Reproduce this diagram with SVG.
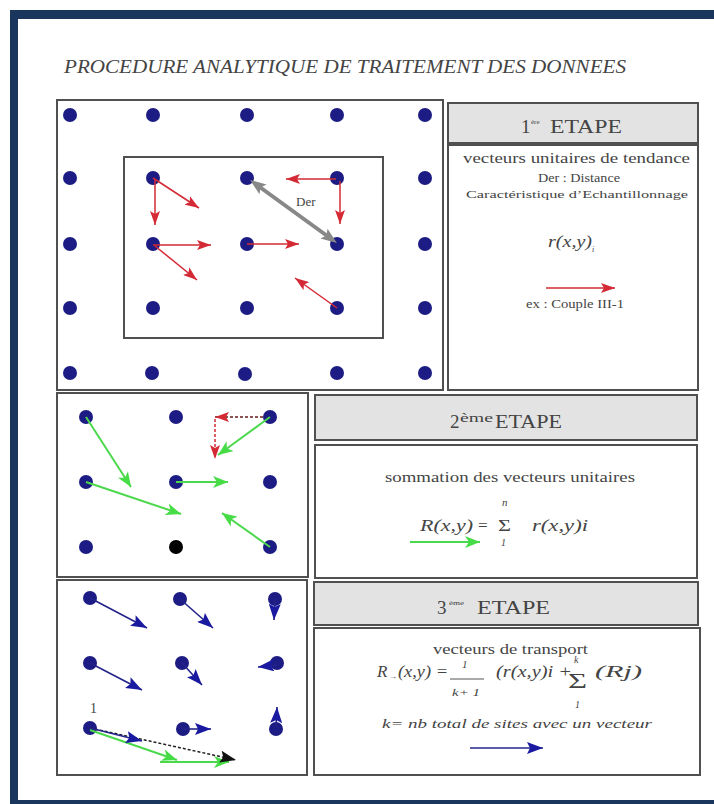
<svg xmlns="http://www.w3.org/2000/svg" width="714" height="804" viewBox="0 0 714 804" font-family="Liberation Serif, serif">
<style>
text{font-family:"Liberation Serif","Times New Roman",serif;fill:#444}
.it{font-style:italic}
.box{fill:#fff;stroke:#505050;stroke-width:2}
.hdr{fill:#e3e3e3;stroke:#505050;stroke-width:2}
.dot{fill:#1c1c84}
.red{stroke:#d42a35;stroke-width:1.5;fill:none;marker-end:url(#hr)}
.grn{stroke:#4cd84c;stroke-width:2;fill:none;marker-end:url(#hg)}
.blu{stroke:#24248a;stroke-width:1.6;fill:none;marker-end:url(#hb)}
</style>
<defs>
<marker id="hr" viewBox="0 0 14 10" refX="14" refY="5" markerWidth="14" markerHeight="10" markerUnits="userSpaceOnUse" orient="auto"><path d="M0,0 L14,5 L0,10 L3,5 z" fill="#d42a35"/></marker>
<marker id="hg" viewBox="0 0 15 12" refX="15" refY="6" markerWidth="15" markerHeight="12" markerUnits="userSpaceOnUse" orient="auto"><path d="M0,0 L15,6 L0,12 L4,6 z" fill="#45dc45"/></marker>
<marker id="hb" viewBox="0 0 16 12" refX="16" refY="6" markerWidth="16" markerHeight="12" markerUnits="userSpaceOnUse" orient="auto"><path d="M0,0 L16,6 L0,12 L3,6 z" fill="#1a1aa0"/></marker>
<marker id="hk" viewBox="0 0 16 12" refX="16" refY="6" markerWidth="16" markerHeight="12" markerUnits="userSpaceOnUse" orient="auto"><path d="M0,0 L16,6 L0,12 L3,6 z" fill="#111"/></marker>
<marker id="hgy" viewBox="0 0 16 12" refX="10" refY="6" markerWidth="16" markerHeight="12" markerUnits="userSpaceOnUse" orient="auto-start-reverse"><path d="M0,0 L16,6 L0,12 L3,6 z" fill="#888"/></marker>
</defs>

<!-- frame -->
<g id="frame" fill="#1b365d">
<rect x="10" y="10" width="704" height="9"/>
<rect x="10" y="10" width="8" height="794"/>
<rect x="10" y="800" width="704" height="4"/>
</g>

<text id="title" class="it" x="64" y="73" font-size="19" textLength="562" lengthAdjust="spacingAndGlyphs" fill="#4a4a4a">PROCEDURE ANALYTIQUE DE TRAITEMENT DES DONNEES</text>

<!-- Panel 1 grid -->
<g id="panel1">
<rect class="box" x="57" y="100" width="386" height="290"/>
<rect class="box" x="124" y="157" width="259" height="181"/>
<g class="dot">
<circle cx="70" cy="115" r="7"/><circle cx="153" cy="115" r="7"/><circle cx="247" cy="115" r="7"/><circle cx="337" cy="115" r="7"/><circle cx="425" cy="115" r="7"/>
<circle cx="70" cy="178" r="7"/><circle cx="153" cy="178" r="7"/><circle cx="247" cy="178" r="7"/><circle cx="337" cy="178" r="7"/><circle cx="425" cy="178" r="7"/>
<circle cx="70" cy="244" r="7"/><circle cx="153" cy="244" r="7"/><circle cx="247" cy="244" r="7"/><circle cx="337" cy="244" r="7"/><circle cx="425" cy="244" r="7"/>
<circle cx="70" cy="308" r="7"/><circle cx="153" cy="308" r="7"/><circle cx="247" cy="308" r="7"/><circle cx="337" cy="308" r="7"/><circle cx="425" cy="308" r="7"/>
<circle cx="70" cy="373" r="7"/><circle cx="152" cy="373" r="7"/><circle cx="245" cy="374" r="7"/><circle cx="337" cy="373" r="7"/><circle cx="425" cy="373" r="7"/>
</g>
<text x="296" y="206" font-size="13" fill="#555">Der</text>
</g>

<!-- Step 1 text -->
<g id="step1">
<rect class="hdr" x="448" y="103" width="250" height="40"/>
<text x="521" y="133" font-size="19">1</text>
<text x="531" y="124" font-size="7">ère</text>
<text x="550" y="133" font-size="19" textLength="72" lengthAdjust="spacingAndGlyphs">ETAPE</text>
<rect class="box" x="448" y="145" width="250" height="245"/>
<text x="463" y="163" font-size="14" textLength="227" lengthAdjust="spacingAndGlyphs" fill="#333">vecteurs unitaires de tendance</text>
<text x="538" y="182" font-size="12" textLength="82" lengthAdjust="spacingAndGlyphs">Der : Distance</text>
<text x="466" y="198" font-size="11" textLength="222" lengthAdjust="spacingAndGlyphs" fill="#555">Caractéristique d’Echantillonnage</text>
<text class="it" x="548" y="247" font-size="17" textLength="44" lengthAdjust="spacingAndGlyphs">r(x,y)</text>
<text class="it" x="592" y="252" font-size="8">i</text>
<text x="526" y="308" font-size="11.5" textLength="98" lengthAdjust="spacingAndGlyphs">ex : Couple III-1</text>
</g>

<g id="panel2">
<rect class="box" x="57" y="393" width="251" height="184"/>
<g class="dot">
<circle cx="86" cy="417" r="7"/><circle cx="176" cy="417" r="7"/><circle cx="270" cy="417" r="7"/>
<circle cx="86" cy="482" r="7"/><circle cx="176" cy="482" r="7"/><circle cx="270" cy="482" r="7"/>
<circle cx="86" cy="547" r="7"/><circle cx="270" cy="547" r="7"/>
</g>
<circle cx="176" cy="547" r="7" fill="#000"/>
</g>

<g id="step2">
<rect class="hdr" x="315" y="395" width="382" height="45"/>
<text x="450" y="428" font-size="19">2</text>
<text x="460" y="422" font-size="12" textLength="33" lengthAdjust="spacingAndGlyphs">ème</text>
<text x="495" y="428" font-size="19" textLength="67" lengthAdjust="spacingAndGlyphs">ETAPE</text>
<rect class="box" x="315" y="445" width="382" height="133"/>
<text x="385" y="482" font-size="14" textLength="250" lengthAdjust="spacingAndGlyphs">sommation des vecteurs unitaires</text>
<text class="it" x="420" y="531" font-size="17" textLength="53" lengthAdjust="spacingAndGlyphs">R(x,y)</text>
<text x="478" y="531" font-size="17">=</text>
<text class="it" x="502" y="506" font-size="11">n</text>
<text x="498" y="531" font-size="17" textLength="13" lengthAdjust="spacingAndGlyphs">Σ</text>
<text class="it" x="501" y="546" font-size="10">1</text>
<text class="it" x="532" y="531" font-size="17" textLength="56" lengthAdjust="spacingAndGlyphs">r(x,y)i</text>
</g>

<g id="panel3">
<rect class="box" x="57" y="580" width="250" height="195"/>
<g class="dot">
<circle cx="90" cy="598" r="7"/><circle cx="180" cy="599" r="7"/><circle cx="275" cy="599" r="7"/>
<circle cx="90" cy="663" r="7"/><circle cx="182" cy="663" r="7"/><circle cx="277" cy="663" r="7"/>
<circle cx="90" cy="728" r="7"/><circle cx="183" cy="729" r="7"/><circle cx="276" cy="729" r="7"/>
</g>
<text x="90" y="713" font-size="14" fill="#555">1</text>
</g>

<g id="step3">
<rect class="hdr" x="314" y="582" width="384" height="43"/>
<text x="437" y="614" font-size="19">3</text>
<text x="449" y="605" font-size="7" textLength="15" lengthAdjust="spacingAndGlyphs">ème</text>
<text x="477" y="614" font-size="19" textLength="73" lengthAdjust="spacingAndGlyphs">ETAPE</text>
<rect class="box" x="314" y="628" width="386" height="147"/>
<text x="433" y="654" font-size="14" textLength="155" lengthAdjust="spacingAndGlyphs">vecteurs de transport</text>
<text class="it" x="377" y="677" font-size="17">R</text>
<text x="389" y="679" font-size="8">→</text>
<text class="it" x="398" y="677" font-size="16" textLength="50" lengthAdjust="spacingAndGlyphs">(x,y) =</text>
<text class="it" x="462" y="668" font-size="11">1</text>
<line x1="450" y1="679" x2="484" y2="679" stroke="#555" stroke-width="1"/>
<text class="it" x="452" y="696" font-size="11" textLength="28" lengthAdjust="spacingAndGlyphs">k+ 1</text>
<text class="it" x="496" y="677" font-size="16" textLength="76" lengthAdjust="spacingAndGlyphs">(r(x,y)i +</text>
<text class="it" x="574" y="663" font-size="10">k</text>
<text x="568" y="688" font-size="22" textLength="19" lengthAdjust="spacingAndGlyphs">Σ</text>
<text class="it" x="575" y="708" font-size="10">1</text>
<text class="it" x="595" y="677" font-size="16" textLength="47" lengthAdjust="spacingAndGlyphs">(Rj)</text>
<text class="it" x="382" y="728" font-size="13" textLength="270" lengthAdjust="spacingAndGlyphs">k= nb  total de sites avec un vecteur</text>
</g>

<g id="connectors">
<line class="red" x1="153" y1="178" x2="199" y2="208"/>
<line class="red" x1="155" y1="180" x2="155" y2="225"/>
<line class="red" x1="336" y1="179" x2="286" y2="179"/>
<line class="red" x1="340" y1="181" x2="340" y2="224"/>
<line class="red" x1="153" y1="245" x2="211" y2="245"/>
<line class="red" x1="155" y1="246" x2="197" y2="280"/>
<line class="red" x1="247" y1="244" x2="299" y2="244"/>
<line class="red" x1="337" y1="308" x2="295" y2="278"/>
<line x1="254.9" y1="183.5" x2="332.1" y2="239.5" stroke="#888" stroke-width="4" marker-start="url(#hgy)" marker-end="url(#hgy)"/>
<line class="red" x1="546" y1="288" x2="615" y2="288"/>
<line class="grn" x1="86" y1="417" x2="131" y2="487"/>
<line class="grn" x1="86" y1="482" x2="181" y2="514"/>
<line class="grn" x1="176" y1="482" x2="228" y2="482"/>
<line class="grn" x1="270" y1="547" x2="222" y2="513"/>
<line class="grn" x1="270" y1="417" x2="218" y2="455"/>
<line x1="263" y1="417" x2="215" y2="417" stroke="#6a1a1a" stroke-width="1.5" stroke-dasharray="3,2" marker-end="url(#hr)"/>
<line x1="215" y1="419" x2="215" y2="459" stroke="#d42a35" stroke-width="1.5" stroke-dasharray="3,2" marker-end="url(#hr)"/>
<line class="grn" x1="410" y1="542" x2="480" y2="542"/>
<line class="blu" x1="90" y1="598" x2="147" y2="628"/>
<line class="blu" x1="180" y1="599" x2="213" y2="628"/>
<line class="blu" x1="275" y1="599" x2="274" y2="620"/>
<line class="blu" x1="90" y1="663" x2="142" y2="690"/>
<line class="blu" x1="182" y1="663" x2="202" y2="685"/>
<line class="blu" x1="277" y1="665" x2="258" y2="667"/>
<line class="blu" x1="183" y1="729" x2="211" y2="729"/>
<line class="blu" x1="276" y1="727" x2="277" y2="707"/>
<line class="grn" x1="90" y1="730" x2="177" y2="760"/>
<line class="grn" x1="160" y1="762" x2="229" y2="762"/>
<line x1="90" y1="728" x2="236" y2="760" stroke="#222" stroke-width="1.5" stroke-dasharray="3,2" marker-end="url(#hk)"/>
<line class="blu" x1="90" y1="728" x2="142" y2="741"/>
<line class="blu" x1="470" y1="748" x2="543" y2="748"/>
</g>
</svg>
